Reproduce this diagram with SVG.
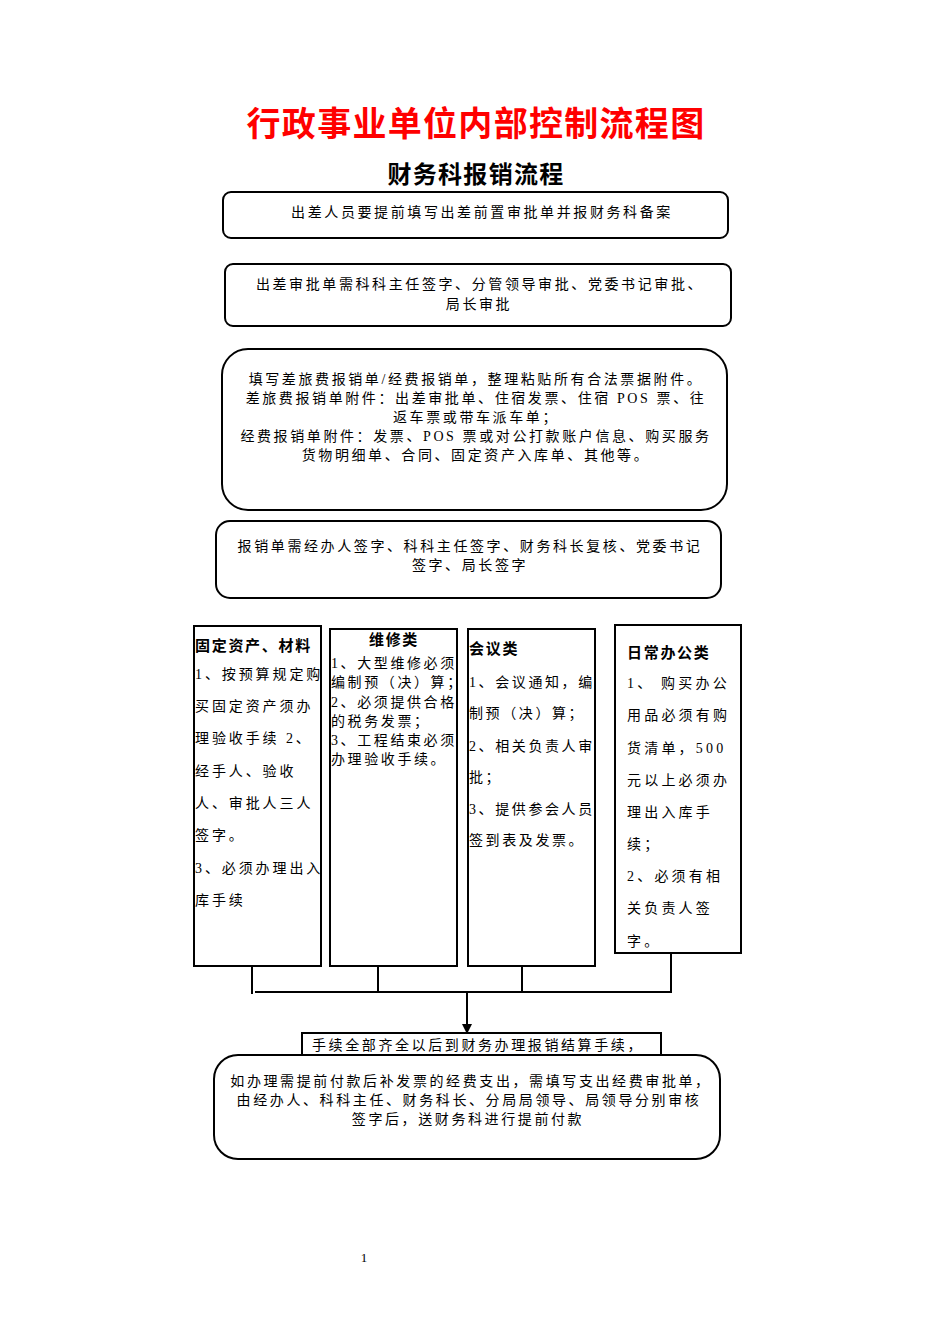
<svg xmlns="http://www.w3.org/2000/svg" width="950" height="1344" viewBox="0 0 950 1344">
<style>
.bx{fill:#fff;stroke:#000;stroke-width:2}
.ln{fill:none;stroke:#000;stroke-width:2}
.t{font-family:"Liberation Serif","Noto Sans CJK SC",serif;font-size:14px;fill:#000;letter-spacing:2.6px}
.m{text-anchor:middle}
.c{font-family:"Liberation Serif","Noto Sans CJK SC",serif;font-size:14px;fill:#000;letter-spacing:2.6px}
.c1{letter-spacing:2.9px}
.c4{letter-spacing:3.2px}
.b{font-family:"Noto Sans CJK SC",sans-serif;font-weight:bold;font-size:15px;fill:#000;letter-spacing:1.7px}
.title{font-family:"Noto Sans CJK SC",sans-serif;font-weight:bold;font-size:34px;fill:#ff0000;letter-spacing:1.3px;text-anchor:middle}
.sub{font-family:"Noto Sans CJK SC",sans-serif;font-weight:bold;font-size:24px;fill:#000;letter-spacing:1.3px;text-anchor:middle}
</style>
<defs>
<marker id="arr" markerWidth="10" markerHeight="10" refX="9" refY="5" orient="auto" markerUnits="userSpaceOnUse">
<path d="M0,0 L10,5 L0,10 Z" fill="#000"/>
</marker>
</defs>
<rect width="950" height="1344" fill="#fff"/>
<text class="title" x="476" y="136">行政事业单位内部控制流程图</text>
<text class="sub" x="476" y="183">财务科报销流程</text>

<g id="connectors">
<line class="ln" x1="252" y1="966" x2="252" y2="994"/>
<line class="ln" x1="378" y1="966" x2="378" y2="992"/>
<line class="ln" x1="522" y1="966" x2="522" y2="992"/>
<line class="ln" x1="671" y1="953" x2="671" y2="993"/>
<line class="ln" x1="255" y1="992" x2="672" y2="992"/>
<line class="ln" x1="467" y1="992" x2="467" y2="1033" marker-end="url(#arr)"/>
</g>

<g id="n1">
<rect class="bx" x="223" y="192" width="505" height="46" rx="8"/>
<text class="t m" x="482" y="217">出差人员要提前填写出差前置审批单并报财务科备案</text>
</g>
<g id="n2">
<rect class="bx" x="225" y="264" width="506" height="62" rx="8"/>
<text class="t m" x="480" y="289">出差审批单需科科主任签字、分管领导审批、党委书记审批、</text>
<text class="t m" x="479" y="309">局长审批</text>
</g>
<g id="n3">
<rect class="bx" x="222" y="349" width="505" height="161" rx="26"/>
<text class="t m" x="476" y="384">填写差旅费报销单/经费报销单，整理粘贴所有合法票据附件。</text>
<text class="t m" x="476" y="403">差旅费报销单附件：出差审批单、住宿发票、住宿 POS 票、往</text>
<text class="t m" x="476" y="422">返车票或带车派车单；</text>
<text class="t m" x="476" y="441">经费报销单附件：发票、POS 票或对公打款账户信息、购买服务</text>
<text class="t m" x="476" y="460">货物明细单、合同、固定资产入库单、其他等。</text>
</g>
<g id="n4">
<rect class="bx" x="216" y="521" width="505" height="77" rx="14"/>
<text class="t m" x="470" y="551">报销单需经办人签字、科科主任签字、财务科长复核、党委书记</text>
<text class="t m" x="470" y="570">签字、局长签字</text>
</g>

<g id="c1">
<rect class="bx" x="194" y="626" width="127" height="340"/>
<text class="b" x="195" y="651">固定资产、材料</text>
<text class="c c1" x="195" y="679">1、按预算规定购</text>
<text class="c c1" x="195" y="711">买固定资产须办</text>
<text class="c c1" x="195" y="743">理验收手续 2、</text>
<text class="c c1" x="195" y="776">经手人、验收</text>
<text class="c c1" x="195" y="808">人、审批人三人</text>
<text class="c c1" x="195" y="840">签字。</text>
<text class="c c1" x="195" y="873">3、必须办理出入</text>
<text class="c c1" x="195" y="905">库手续</text>
</g>
<g id="c2">
<rect class="bx" x="330" y="629" width="127" height="337"/>
<text class="b m" x="394" y="645">维修类</text>
<text class="c" x="331" y="668">1、大型维修必须</text>
<text class="c" x="331" y="687">编制预（决）算；</text>
<text class="c" x="331" y="707">2、必须提供合格</text>
<text class="c" x="331" y="726">的税务发票；</text>
<text class="c" x="331" y="745">3、工程结束必须</text>
<text class="c" x="331" y="764">办理验收手续。</text>
</g>
<g id="c3">
<rect class="bx" x="468" y="629" width="127" height="337"/>
<text class="b" x="469" y="654">会议类</text>
<text class="c" x="469" y="687">1、会议通知，编</text>
<text class="c" x="469" y="718">制预（决）算；</text>
<text class="c" x="469" y="751">2、相关负责人审</text>
<text class="c" x="469" y="782">批；</text>
<text class="c" x="469" y="814">3、提供参会人员</text>
<text class="c" x="469" y="845">签到表及发票。</text>
</g>
<g id="c4">
<rect class="bx" x="615" y="625" width="126" height="328"/>
<text class="b" x="627" y="658">日常办公类</text>
<text class="c c4" x="627" y="688">1、 购买办公</text>
<text class="c c4" x="627" y="720">用品必须有购</text>
<text class="c c4" x="627" y="753">货清单，500</text>
<text class="c c4" x="627" y="785">元以上必须办</text>
<text class="c c4" x="627" y="817">理出入库手</text>
<text class="c c4" x="627" y="849">续；</text>
<text class="c c4" x="627" y="881">2、必须有相</text>
<text class="c c4" x="627" y="913">关负责人签</text>
<text class="c c4" x="627" y="946">字。</text>
</g>

<g id="n5">
<rect class="bx" x="302" y="1033" width="359" height="30"/>
<text class="t m" x="478" y="1050">手续全部齐全以后到财务办理报销结算手续，</text>
</g>
<g id="n6">
<rect class="bx" x="214" y="1055" width="506" height="104" rx="24"/>
<text class="t m" x="471" y="1086">如办理需提前付款后补发票的经费支出，需填写支出经费审批单，</text>
<text class="t m" x="469" y="1105">由经办人、科科主任、财务科长、分局局领导、局领导分别审核</text>
<text class="t m" x="468" y="1124">签字后，送财务科进行提前付款</text>
</g>

<text x="364" y="1262" style="font-family:'Liberation Serif',serif;font-size:13px;fill:#000" text-anchor="middle">1</text>
</svg>
